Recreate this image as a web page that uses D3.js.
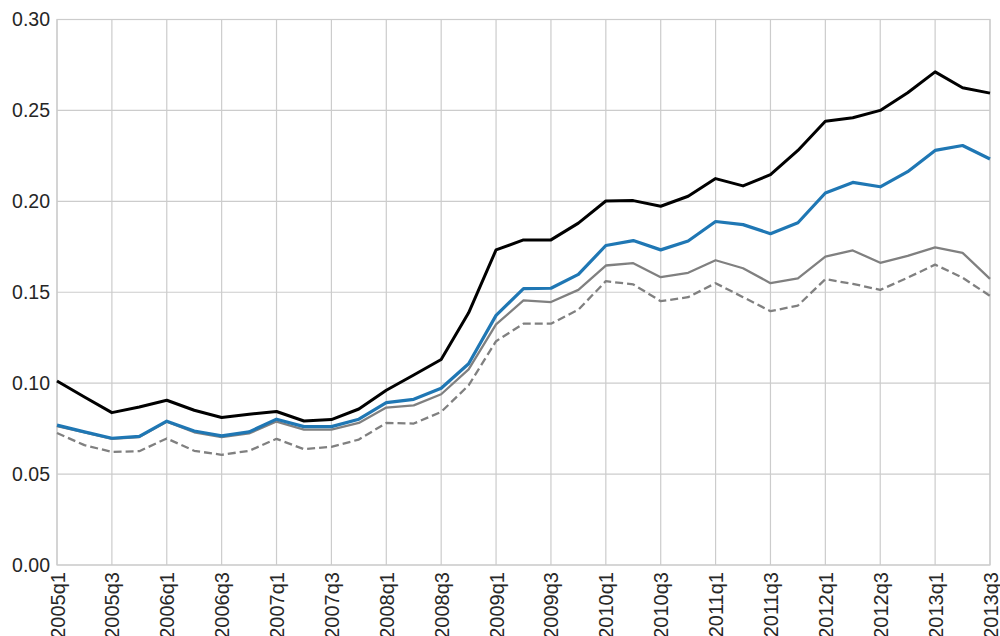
<!DOCTYPE html>
<html>
<head>
<meta charset="utf-8">
<script src="https://cdn.jsdelivr.net/npm/d3@7"></script>
<style>
  body { margin: 0; background: #fff; }
  svg { font-family: "Liberation Sans", Arial, sans-serif; }
</style>
</head>
<body>
<div id="chart"></div>
<script>
// quarters 2005q1 .. 2013q3
const quarters = [];
for (let y = 2005; y <= 2013; y++) {
    for (let q = 1; q <= 4; q++) {
        if (y === 2013 && q > 3) break;
        quarters.push(y + "q" + q);
    }
}

const blackSeries = [0.1012, 0.0924, 0.0838, 0.0869, 0.0906, 0.0851, 0.0811, 0.0829, 0.0844, 0.0792,
    0.0800, 0.0858, 0.0961, 0.1045, 0.1130, 0.1387, 0.1733, 0.1788, 0.1788, 0.1880,
    0.2002, 0.2004, 0.1973, 0.2028, 0.2125, 0.2085, 0.2147, 0.2280, 0.2440, 0.2460,
    0.2500, 0.2597, 0.2712, 0.2625, 0.2595];

const blueSeries = [0.0769, 0.0732, 0.0697, 0.0707, 0.0791, 0.0737, 0.0710, 0.0732, 0.0802, 0.0761,
    0.0761, 0.0802, 0.0893, 0.0911, 0.0972, 0.1107, 0.1373, 0.1520, 0.1522, 0.1598,
    0.1757, 0.1784, 0.1733, 0.1782, 0.1889, 0.1872, 0.1822, 0.1882, 0.2046, 0.2104,
    0.2080, 0.2163, 0.2280, 0.2307, 0.2233];

const graySeries = [0.0764, 0.0729, 0.0694, 0.0704, 0.0788, 0.0730, 0.0703, 0.0724, 0.0789, 0.0745,
    0.0745, 0.0781, 0.0866, 0.0878, 0.0939, 0.1076, 0.1323, 0.1455, 0.1446, 0.1513,
    0.1647, 0.1660, 0.1583, 0.1607, 0.1676, 0.1632, 0.1550, 0.1576, 0.1696, 0.1730,
    0.1662, 0.1700, 0.1747, 0.1717, 0.1574];

const dashedSeries = [0.0726, 0.0659, 0.0622, 0.0626, 0.0696, 0.0628, 0.0606, 0.0628, 0.0694, 0.0637,
    0.0650, 0.0690, 0.0781, 0.0778, 0.0842, 0.0988, 0.1231, 0.1327, 0.1327, 0.1404,
    0.1561, 0.1543, 0.1451, 0.1473, 0.1550, 0.1473, 0.1396, 0.1427, 0.1572, 0.1546,
    0.1513, 0.1580, 0.1652, 0.1580, 0.1480];

const yTicks = [0, 0.05, 0.10, 0.15, 0.20, 0.25, 0.30];
const xTickLabels = quarters.filter((d, i) => i % 2 === 0);

const width = 1000, height = 636;
const margin = { top: 19.5, right: 10, bottom: 71, left: 57 };

const svg = d3.select("#chart").append("svg")
    .attr("width", width)
    .attr("height", height);

const x = d3.scalePoint()
    .domain(quarters)
    .range([margin.left, width - margin.right]);

const y = d3.scaleLinear()
    .domain([0, 0.30])
    .range([height - margin.bottom, margin.top]);

// grid
svg.append("g")
    .selectAll("line.h")
    .data(yTicks)
    .join("line")
    .attr("x1", margin.left)
    .attr("x2", width - margin.right)
    .attr("y1", d => y(d))
    .attr("y2", d => y(d))
    .attr("stroke", "#cccccc")
    .attr("stroke-width", 1.2);

svg.append("g")
    .selectAll("line.v")
    .data(xTickLabels)
    .join("line")
    .attr("x1", d => x(d))
    .attr("x2", d => x(d))
    .attr("y1", margin.top)
    .attr("y2", height - margin.bottom)
    .attr("stroke", "#cccccc")
    .attr("stroke-width", 1.2);

// frame
svg.append("rect")
    .attr("x", margin.left)
    .attr("y", margin.top)
    .attr("width", width - margin.right - margin.left)
    .attr("height", height - margin.bottom - margin.top)
    .attr("fill", "none")
    .attr("stroke", "#cccccc")
    .attr("stroke-width", 1.2);

// y axis
const yAxis = svg.append("g")
    .attr("transform", `translate(${margin.left},0)`)
    .call(d3.axisLeft(y).tickValues(yTicks).tickFormat(d3.format(".2f")).tickSize(0).tickPadding(7));
yAxis.select(".domain").remove();
yAxis.selectAll("text")
    .attr("font-size", 19.5)
    .attr("fill", "#262626");

// x axis
const xAxis = svg.append("g")
    .attr("transform", `translate(0,${height - margin.bottom})`)
    .call(d3.axisBottom(x).tickValues(xTickLabels).tickSize(0).tickPadding(7));
xAxis.select(".domain").remove();
xAxis.selectAll("text")
    .attr("font-size", 20)
    .attr("fill", "#262626")
    .attr("text-anchor", "end")
    .attr("transform", "rotate(-90)")
    .attr("x", -7)
    .attr("y", 0)
    .attr("dy", "0.35em");

const line = d3.line()
    .x((d, i) => x(quarters[i]))
    .y(d => y(d));

const seriesList = [
    { values: dashedSeries, color: "#808080", width: 2.3, dash: "8,4" },
    { values: graySeries, color: "#808080", width: 2.3, dash: null },
    { values: blueSeries, color: "#1f77b4", width: 3.2, dash: null },
    { values: blackSeries, color: "#000000", width: 3, dash: null }
];

svg.append("g")
    .selectAll("path")
    .data(seriesList)
    .join("path")
    .attr("d", d => line(d.values))
    .attr("fill", "none")
    .attr("stroke", d => d.color)
    .attr("stroke-width", d => d.width)
    .attr("stroke-dasharray", d => d.dash)
    .attr("stroke-linejoin", "round");
</script>
</body>
</html>
